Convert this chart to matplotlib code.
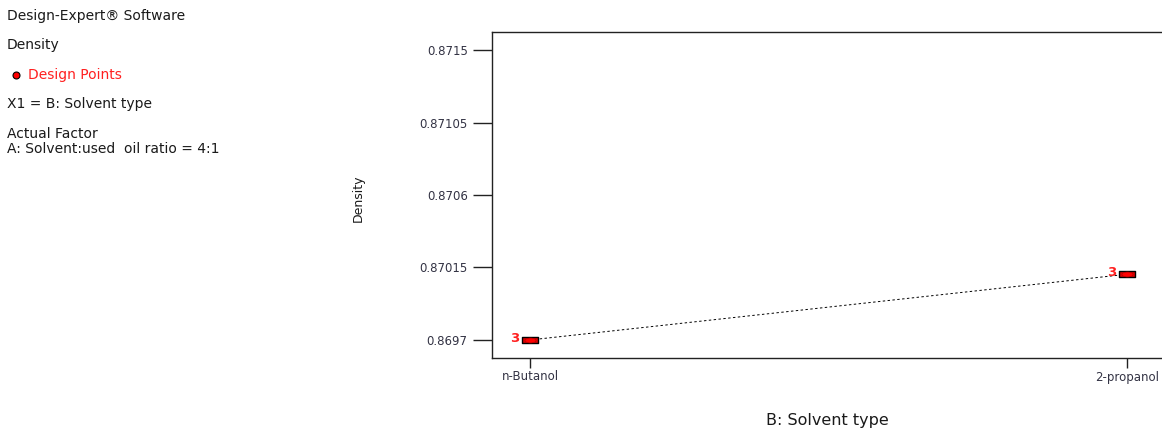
import matplotlib.pyplot as plt
from matplotlib.path import Path
from matplotlib.transforms import Affine2D

# Data: one-factor plot of Density against solvent type
solvents = ['n-Butanol', '2-propanol']
density = [0.86970, 0.870108]
replicates = [3, 3]

y_ticks = [0.8697, 0.87015, 0.8706, 0.87105, 0.8715]
y_tick_labels = ['0.8697', '0.87015', '0.8706', '0.87105', '0.8715']

header_lines = [
    ('Design-Expert® Software', 16),
    ('Density', 45),
    ('X1 = B: Solvent type', 104),
    ('Actual Factor', 134),
    ('A: Solvent:used  oil ratio = 4:1', 149),
]

W, H = 1162, 432
fig = plt.figure(figsize=(W / 100, H / 100), dpi=100)
fig.patch.set_facecolor('white')

# Info panel on the left
for txt, ypix in header_lines:
    fig.text(7 / W, 1 - ypix / H, txt, fontsize=10, color='#1a1a1a', va='center', ha='left')
fig.text(28 / W, 1 - 75 / H, 'Design Points', fontsize=10, color='#ff2020', va='center', ha='left')
fig.add_artist(plt.Line2D([16 / W], [1 - 75 / H], marker='o', markersize=5,
                          markerfacecolor='red', markeredgecolor='black',
                          markeredgewidth=0.8, transform=fig.transFigure))

# Main axes (right edge runs just past the figure)
ax = fig.add_axes([492 / W, (H - 358) / H, (1165 - 492) / W, (358 - 32) / H])
x = list(range(len(solvents)))

ax.plot(x, density, color='black', linestyle=(0, (2.5, 2.5)), linewidth=0.7, zorder=2)

# rectangular design-point markers with a red ellipse inside
rect = Path([(-2, -0.9), (2, -0.9), (2, 0.9), (-2, 0.9), (-2, -0.9)],
            [Path.MOVETO, Path.LINETO, Path.LINETO, Path.LINETO, Path.CLOSEPOLY])
ax.plot(x, density, linestyle='none', marker=rect, markersize=11,
        markerfacecolor='#e00000', markeredgecolor='black', markeredgewidth=1.0, zorder=3)
ellipse = Path.unit_circle().transformed(Affine2D().scale(1.6, 0.7))
ax.plot(x, density, linestyle='none', marker=ellipse, markersize=8,
        markerfacecolor='red', markeredgecolor='#b00000', markeredgewidth=0.5, zorder=4)

for xi, yi, n in zip(x, density, replicates):
    ax.annotate(str(n), (xi, yi), xytext=(-8, 1), textcoords='offset points',
                ha='right', va='center', fontsize=9.5, fontweight='bold', color='#ff2020', zorder=5)

ax.set_xlim(-0.0637, 1.0637)
ax.set_ylim(0.869588, 0.871612)

ax.set_yticks(y_ticks)
ax.set_yticklabels(y_tick_labels)
ax.set_xticks(x)
ax.set_xticklabels(solvents)

ax.tick_params(axis='y', direction='out', length=13.5, width=1, pad=4,
               labelsize=8.5, labelcolor='#333344', color='#222222')
ax.tick_params(axis='x', direction='out', length=7, width=1, pad=2,
               labelsize=8.5, labelcolor='#333344', color='#222222')

for side in ['left', 'bottom', 'top', 'right']:
    ax.spines[side].set_linewidth(1)
    ax.spines[side].set_color('#222222')

fig.text(827 / W, 1 - 421 / H, 'B: Solvent type', fontsize=11.5, color='#1a1a1a',
         ha='center', va='center')
fig.text(358 / W, 1 - 198 / H, 'Density', rotation=90, fontsize=9,
         color='#1a1a1a', ha='center', va='center')

fig.savefig('out.png', dpi=100)
